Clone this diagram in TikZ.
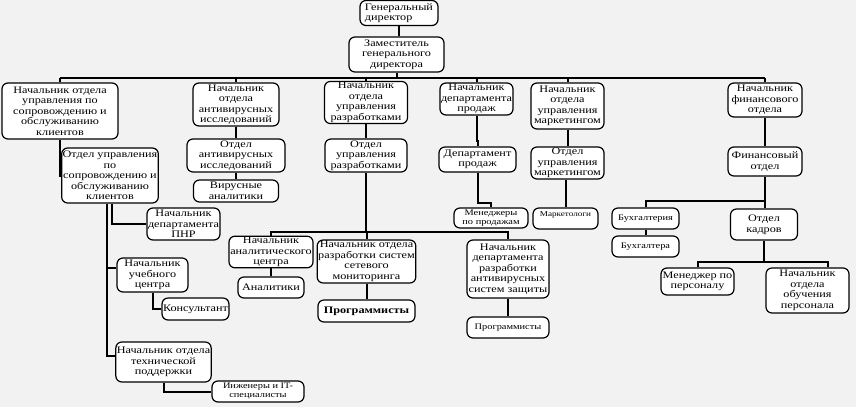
\documentclass[tikz,border=0pt]{standalone}
\usepackage{fontspec}
\setmainfont{Liberation Serif}[FakeStretch=1.22]
\begin{document}
\begin{tikzpicture}[x=1pt,y=-1pt,
  box/.style={draw, line width=1.2pt, rounded corners=6pt, fill=white, align=center, inner sep=1pt,
              font=\fontsize{10}{10.5}\selectfont},
  sm/.style={font=\fontsize{8.5}{9}\selectfont},
  xs/.style={font=\fontsize{7.5}{8}\selectfont},
  link/.style={line width=2pt}]
\fill[black!5] (0,0) rectangle (856,407);
\useasboundingbox (0,0) rectangle (856,407);
% top
\node[box, align=left, minimum width=78pt, minimum height=25pt] (gd) at (399,13) {Генеральный\\директор};
\node[box, minimum width=95pt, minimum height=35pt] (zam) at (396.5,54.5) {Заместитель\\генерального\\директора};
% level 2
\node[box, minimum width=116pt, minimum height=56pt] (A1) at (60,111) {Начальник отдела\\управления по\\сопровождению и\\обслуживанию\\клиентов};
\node[box, minimum width=86pt, minimum height=43pt] (B1) at (236,104.5) {Начальник\\отдела\\антивирусных\\исследований};
\node[box, minimum width=83pt, minimum height=41pt] (C1) at (366,102.5) {Начальник\\отдела\\управления\\разработками};
\node[box, minimum width=73pt, minimum height=32pt] (D1) at (476.5,99) {Начальник\\департамента\\продаж};
\node[box, minimum width=73pt, minimum height=46pt] (E1) at (567.5,106) {Начальник\\отдела\\управления\\маркетингом};
\node[box, minimum width=74pt, minimum height=34pt] (F1) at (765,100) {Начальник\\финансового\\отдела};
% left branch
\node[box, minimum width=96pt, minimum height=55pt] (A2) at (110,175.5) {Отдел управления\\по\\сопровождению и\\обслуживанию\\клиентов};
\node[box, minimum width=73pt, minimum height=32pt] (PNR) at (183.5,224) {Начальник\\департамента\\ПНР};
\node[box, minimum width=71pt, minimum height=34pt] (UC) at (152.5,275) {Начальник\\учебного\\центра};
\node[box, minimum width=65pt, minimum height=22pt] (Kons) at (195.5,309) {Консультант};
\node[box, minimum width=93pt, minimum height=40pt] (TP) at (163.5,362) {Начальник отдела\\технической\\поддержки};
\node[box, sm, minimum width=92pt, minimum height=21pt] (Ing) at (258,391.5) {Инженеры и IT-\\специалисты};
% antivirus research
\node[box, minimum width=98pt, minimum height=33pt] (B2) at (236,155.5) {Отдел\\антивирусных\\исследований};
\node[box, minimum width=85pt, minimum height=22pt] (B3) at (236,191) {Вирусные\\аналитики};
% development
\node[box, minimum width=82pt, minimum height=33pt] (C2) at (366,155.5) {Отдел\\управления\\разработками};
\node[box, minimum width=84pt, minimum height=30pt] (AC) at (271,252) {Начальник\\аналитического\\центра};
\node[box, minimum width=66pt, minimum height=21pt] (An) at (271,287.5) {Аналитики};
\node[box, minimum width=97pt, minimum height=43pt] (C3a) at (366.5,261.5) {Начальник отдела\\разработки систем\\сетевого\\мониторинга};
\node[box, font=\fontsize{10}{10.5}\selectfont\bfseries, minimum width=97pt, minimum height=22pt] (C4a) at (366.5,311) {Программисты};
\node[box, minimum width=82pt, minimum height=58pt] (C3b) at (508,269) {Начальник\\департамента\\разработки\\антивирусных\\систем защиты};
\node[box, sm, minimum width=82pt, minimum height=21pt] (C4b) at (508,327.5) {Программисты};
% sales
\node[box, minimum width=77pt, minimum height=25pt] (D2) at (477.5,159.5) {Департамент\\продаж};
\node[box, sm, minimum width=74pt, minimum height=20pt] (D3) at (491,218) {Менеджеры\\по продажам};
% marketing
\node[box, minimum width=73pt, minimum height=32pt] (E2) at (567.5,163) {Отдел\\управления\\маркетингом};
\node[box, xs, minimum width=65pt, minimum height=21pt, text depth=9pt] (E3) at (565.5,218.5) {Маркетологи};
% finance
\node[box, minimum width=74pt, minimum height=29pt] (F2) at (765,161.5) {Финансовый\\отдел};
\node[box, sm, minimum width=67pt, minimum height=21pt] (F3a) at (645.5,218.5) {Бухгалтерия};
\node[box, sm, minimum width=67pt, minimum height=21pt] (F4a) at (645.5,246.5) {Бухгалтера};
\node[box, minimum width=67pt, minimum height=31pt] (F3b) at (764,224.5) {Отдел\\кадров};
\node[box, minimum width=73pt, minimum height=27pt] (F4b) at (697.5,281.5) {Менеджер по\\персоналу};
\node[box, minimum width=83pt, minimum height=45pt] (F4c) at (807.5,290.5) {Начальник\\отдела\\обучения\\персонала};
% junction coordinates
\coordinate (bus) at (0,78);
\coordinate (bus2) at (0,232);
\coordinate (trunk) at ([xshift=-3pt]A2.south);
\coordinate (fj) at (765,201);
\coordinate (fk) at (764,262);
% connectors
\begin{scope}[link]
\draw (gd.south) -- (gd.south |- zam.north);
\draw (zam.south) -- (zam.south |- bus);
\draw (A1.north |- bus) -- (F1.north |- bus);
\foreach \n in {A1,B1,C1,D1,E1,F1} \draw (\n.north) -- (\n.north |- bus);
\draw (A1.south) |- (A2.west);
\draw (trunk) |- ([yshift=6pt]TP.west);
\draw ([xshift=2pt]A2.south) |- (PNR.west);
\draw ([yshift=7pt]UC.west) -- ([yshift=7pt]UC.west -| trunk);
\draw (UC.south) |- (Kons.west);
\draw (TP.south) |- (Ing.west);
\draw (B1.south) -- (B2.north);
\draw (B2.south) -- (B3.north);
\draw (C1.south) -- (C2.north);
\draw (C2.south) -- (C2.south |- bus2);
\draw (AC.north) -- (AC.north |- bus2) -- (C3b.north |- bus2) -- (C3b.north);
\draw (C3a.north) -- (C3a.north |- bus2);
\draw (AC.south) -- (An.north);
\draw (C3a.south) -- (C4a.north);
\draw (C3b.south) -- (C4b.north);
\draw (D1.south) -- ++(0,25) -| (D2.north);
\draw (D2.south) -- ++(0,30) -| (D3.north);
\draw (E1.south) -- (E2.north);
\draw (E2.south -| E3.north) -- (E3.north);
\draw (F1.south) -- (F2.north);
\draw (F2.south) -- (F3b.north -| F2.south);
\draw (F3a.north) -- (F3a.north |- fj) -- (fj);
\draw (F3a.south) -- (F4a.north);
\draw (F3b.south) -- (fk);
\draw (F4b.north) -- (F4b.north |- fk) -- ([xshift=20pt]F4c.north |- fk) -- ([xshift=20pt]F4c.north);
\end{scope}
\end{tikzpicture}
\end{document}
